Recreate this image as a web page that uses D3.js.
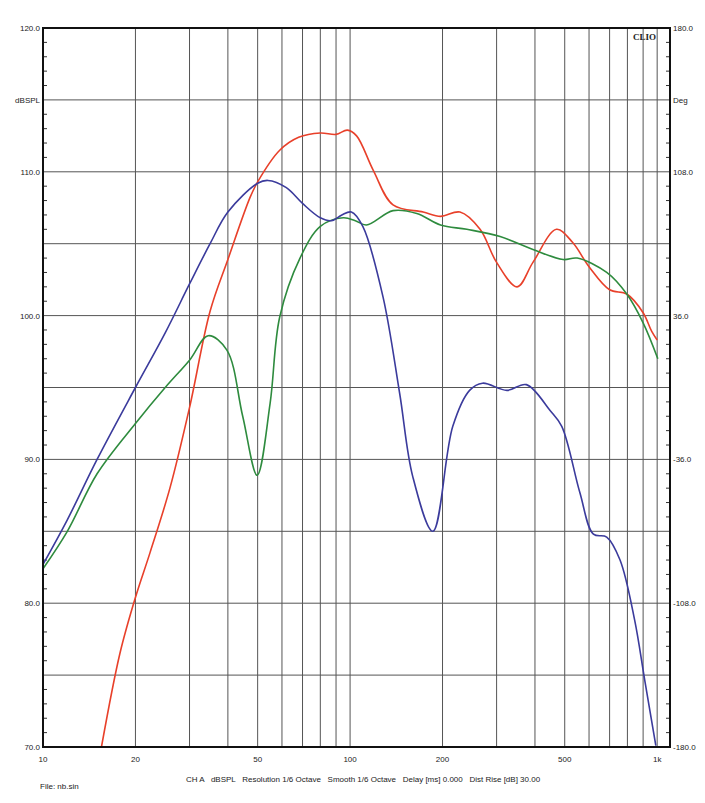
<!DOCTYPE html>
<html>
<head>
<meta charset="utf-8">
<script src="https://cdn.jsdelivr.net/npm/d3@7"></script>
<style>
  body { margin: 0; background: #fff; }
  text { font-family: "Liberation Sans", Arial, sans-serif; font-size: 8px; fill: #222; white-space: pre; }
</style>
</head>
<body>
<svg id="chart" width="705" height="803"></svg>
<script>
// frequency (Hz) / level (dBSPL) pairs
const redCurve = [
  [15.5, 70], [17.8, 76.5], [20, 80.4], [22.3, 83.5], [25.9, 88], [30, 93.6],
  [35, 100.3], [40, 103.9], [47.2, 108.2], [50, 109.3], [59, 111.5], [68, 112.4],
  [80, 112.7], [90, 112.6], [98, 112.9], [105, 112.5], [119, 110.1], [138, 107.7],
  [173, 107.2], [197, 106.9], [228, 107.2], [265, 106], [300, 103.7], [350, 102],
  [394, 103.7], [470, 106], [530, 105.1], [600, 103.4], [700, 101.8], [796, 101.5],
  [900, 100.2], [960, 98.9], [1000, 98.3]
];
const blueCurve = [
  [10, 82.7], [12, 85.8], [15, 90], [20, 95], [25, 98.8], [30, 102.2], [35, 105],
  [40, 107.2], [50, 109.2], [54, 109.4], [62, 108.9], [70, 107.8], [80, 106.8], [87, 106.6],
  [94, 107], [101, 107.2], [110, 106.2], [128, 101.3], [145, 94.6], [160, 88.8],
  [186, 85], [216, 92.3], [245, 94.8], [270, 95.3], [324, 94.8], [375, 95.2],
  [448, 93.4], [489, 92.3], [560, 87.7], [620, 84.8], [685, 84.6], [757, 83],
  [845, 78.8], [910, 74.7], [990, 70.1]
];
const greenCurve = [
  [10, 82.4], [12, 85], [15, 89], [20, 92.5], [25, 95], [30, 96.9], [34.5, 98.6],
  [39.7, 97.6], [44.7, 93], [49.8, 88.9], [54.9, 93.9], [59, 99.9], [68.7, 104],
  [80, 106.2], [95, 106.8], [104, 106.6], [113, 106.3], [138, 107.3], [165, 107.1],
  [197, 106.3], [240, 106], [308, 105.5], [394, 104.6], [494, 103.9], [549, 104],
  [685, 103], [796, 101.5], [900, 99.5], [1005, 97]
];
const freqGrid = [20, 30, 40, 50, 60, 70, 80, 90, 100, 200, 300, 400, 500, 600, 700, 800, 900, 1000];
const freqLabels = [[10, "10"], [20, "20"], [50, "50"], [100, "100"], [200, "200"], [500, "500"], [1000, "1k"]];
const dbTicks = [120, 110, 100, 90, 80, 70];
const degTicks = [180, 108, 36, -36, -108, -180];

const svg = d3.select("#chart");
const pLeft = 43, pRight = 670, pTop = 28, pBottom = 747;

const x = d3.scaleLog().domain([10, 1101]).range([pLeft, pRight]);
const y = d3.scaleLinear().domain([70, 120]).range([pBottom, pTop]);
const yDeg = d3.scaleLinear().domain([-180, 180]).range([pBottom, pTop]);

// grid
svg.append("g").selectAll("line").data(freqGrid).join("line")
  .attr("x1", d => x(d)).attr("x2", d => x(d))
  .attr("y1", pTop).attr("y2", pBottom)
  .attr("stroke", "#555").attr("stroke-width", 1);
svg.append("g").selectAll("line").data(d3.range(75, 120, 5)).join("line")
  .attr("x1", pLeft).attr("x2", pRight)
  .attr("y1", d => y(d)).attr("y2", d => y(d))
  .attr("stroke", "#555").attr("stroke-width", 1);

// minor ticks on both sides
const minor = d3.range(71, 120, 1).filter(d => d % 5 != 0);
svg.append("g").selectAll("line").data(minor).join("line")
  .attr("x1", pLeft).attr("x2", pLeft + 4)
  .attr("y1", d => y(d)).attr("y2", d => y(d)).attr("stroke", "#333");
svg.append("g").selectAll("line").data(minor).join("line")
  .attr("x1", pRight - 4).attr("x2", pRight)
  .attr("y1", d => y(d)).attr("y2", d => y(d)).attr("stroke", "#333");

// curves
const line = d3.line()
  .x(d => x(d[0])).y(d => y(d[1]))
  .curve(d3.curveCatmullRom.alpha(0.5));
[[redCurve, "#e8402a"], [greenCurve, "#2e8b3e"], [blueCurve, "#3b3b9c"]].forEach(([data, col]) => {
  svg.append("path").datum(data).attr("d", line)
    .attr("fill", "none").attr("stroke", col).attr("stroke-width", 1.6);
});

// frame
svg.append("rect").attr("x", pLeft).attr("y", pTop)
  .attr("width", pRight - pLeft).attr("height", pBottom - pTop)
  .attr("fill", "none").attr("stroke", "#111").attr("stroke-width", 2);

// axis labels
svg.append("g").selectAll("text").data(dbTicks).join("text")
  .attr("x", pLeft - 3).attr("y", d => y(d) + 3)
  .attr("text-anchor", "end").text(d => d.toFixed(1));
svg.append("g").selectAll("text").data(degTicks).join("text")
  .attr("x", pRight + 3).attr("y", d => yDeg(d) + 3)
  .text(d => d.toFixed(1));
svg.append("text").attr("x", pLeft - 3).attr("y", y(115) + 3)
  .attr("text-anchor", "end").text("dBSPL");
svg.append("text").attr("x", pRight + 3).attr("y", y(115) + 3).text("Deg");
svg.append("g").selectAll("text").data(freqLabels).join("text")
  .attr("x", d => x(d[0])).attr("y", pBottom + 15)
  .attr("text-anchor", "middle").text(d => d[1]);

svg.append("text").attr("x", 656).attr("y", 40).attr("text-anchor", "end")
  .style("font-family", "'Liberation Serif', serif").style("font-weight", "bold")
  .style("font-size", "9px").text("CLIO");

svg.append("text").attr("x", 40).attr("y", 789).text("File: nb.sin");
svg.append("text").attr("x", 186).attr("y", 782)
  .text("CH A   dBSPL   Resolution 1/6 Octave   Smooth 1/6 Octave   Delay [ms] 0.000   Dist Rise [dB] 30.00");
</script>
</body>
</html>
